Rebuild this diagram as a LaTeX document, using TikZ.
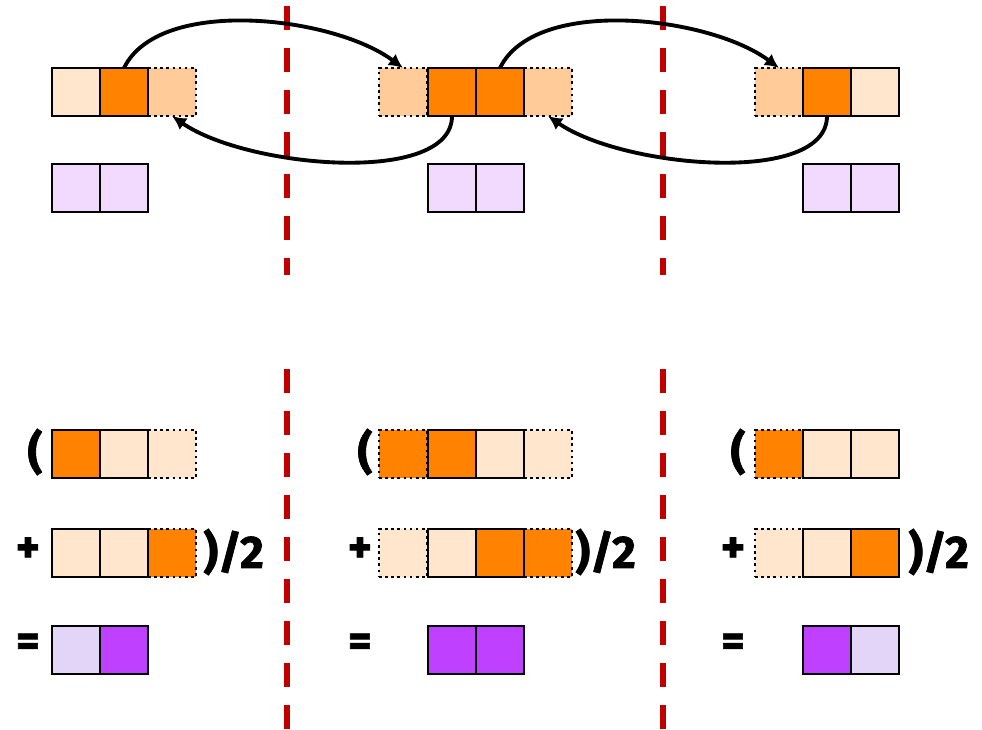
\documentclass[tikz,border=0pt]{standalone}
\usepackage{fontspec}
\setmainfont{Fira Sans}
\newfontfamily\opfont{Fira Sans}[BoldFeatures={FakeBold=1.5}]
\usetikzlibrary{arrows.meta}

\definecolor{lightorange}{HTML}{FFE6CC}
\definecolor{midorange}{HTML}{FFCC99}
\definecolor{fullorange}{HTML}{FF8200}
\definecolor{lightpurple}{HTML}{F2D9FE}
\definecolor{lavender}{HTML}{E3D5F8}
\definecolor{fullpurple}{HTML}{C040FF}
\definecolor{divred}{HTML}{C00000}

\tikzset{
  cell/.style={draw, line width=1.5pt, minimum size=0.96cm, inner sep=0pt, outer sep=0pt},
  halo/.style={cell, dotted},
  hop/.style={-{Latex[length=8pt,width=8pt]}, line width=2.2pt},
  divider/.style={draw=divred, line width=3.4pt, dash pattern=on 13.66pt off 10.24pt},
  sym/.style={font=\opfont\bfseries\fontsize{26}{26}\selectfont, inner sep=0pt}
}

\begin{document}
\begin{tikzpicture}[x=0.02cm,y=0.02cm]
    \useasboundingbox (0,0) rectangle (982,-729);
    % red dividers
    \draw [divider] (287,-6) -- (287,-275);\draw [divider] (287,-369) -- (287,-729);
    \draw [divider] (663,-6) -- (663,-275);\draw [divider] (663,-369) -- (663,-729);
    % exchange, first block
    \node [halo, fill=midorange] (u1c) at (172,-92) {};
    \node [cell, fill=lightorange] (u1a) at (76,-92) {};\node [cell, fill=fullorange] (u1b) at (124,-92) {};
    \node [cell, fill=lightpurple] (v1a) at (76,-188) {};\node [cell, fill=lightpurple] (v1b) at (124,-188) {};
    % exchange, second block
    \node [halo, fill=midorange] (u2a) at (403,-92) {};\node [halo, fill=midorange] (u2d) at (548,-92) {};
    \node [cell, fill=fullorange] (u2b) at (452,-92) {};\node [cell, fill=fullorange] (u2c) at (500,-92) {};
    \node [cell, fill=lightpurple] (v2a) at (452,-188) {};\node [cell, fill=lightpurple] (v2b) at (500,-188) {};
    % exchange, third block
    \node [halo, fill=midorange] (u3a) at (779,-92) {};
    \node [cell, fill=fullorange] (u3b) at (827,-92) {};\node [cell, fill=lightorange] (u3c) at (875,-92) {};
    \node [cell, fill=lightpurple] (v3a) at (827,-188) {};\node [cell, fill=lightpurple] (v3b) at (875,-188) {};
    % halo sends
    \draw [hop] (u1b.north) .. controls +(35,72) and +(-70,52) .. (u2a.north);
    \draw [hop] (u2b.south) .. controls +(0,-70) and +(75,-52) .. (u1c.south);
    \draw [hop] (u2c.north) .. controls +(35,72) and +(-70,52) .. (u3a.north);
    \draw [hop] (u3b.south) .. controls +(0,-70) and +(75,-52) .. (u2d.south);
    % averaging, first block
    \node [sym] (o1) at (35,-452) {(};\node [sym] (p1) at (28,-550) {+};\node [sym] (e1) at (28,-645) {=};
    \node [sym, anchor=west] (c1) at (203,-552) {)/2};
    \node [halo, fill=lightorange] (a1c) at (172,-454) {};
    \node [cell, fill=fullorange] (a1a) at (76,-454) {};\node [cell, fill=lightorange] (a1b) at (124,-454) {};
    \node [halo, fill=fullorange] (b1c) at (172,-553) {};
    \node [cell, fill=lightorange] (b1a) at (76,-553) {};\node [cell, fill=lightorange] (b1b) at (124,-553) {};
    \node [cell, fill=lavender] (r1a) at (76,-650) {};\node [cell, fill=fullpurple] (r1b) at (124,-650) {};
    % averaging, second block
    \node [sym] (o2) at (365,-452) {(};\node [sym] (p2) at (360,-550) {+};\node [sym] (e2) at (360,-645) {=};
    \node [sym, anchor=west] (c2) at (575,-552) {)/2};
    \node [halo, fill=fullorange] (a2a) at (403,-454) {};\node [halo, fill=lightorange] (a2d) at (548,-454) {};
    \node [cell, fill=fullorange] (a2b) at (452,-454) {};\node [cell, fill=lightorange] (a2c) at (500,-454) {};
    \node [halo, fill=lightorange] (b2a) at (403,-553) {};\node [halo, fill=fullorange] (b2d) at (548,-553) {};
    \node [cell, fill=lightorange] (b2b) at (452,-553) {};\node [cell, fill=fullorange] (b2c) at (500,-553) {};
    \node [cell, fill=fullpurple] (r2a) at (452,-650) {};\node [cell, fill=fullpurple] (r2b) at (500,-650) {};
    % averaging, third block
    \node [sym] (o3) at (738,-452) {(};\node [sym] (p3) at (733,-550) {+};\node [sym] (e3) at (733,-645) {=};
    \node [sym, anchor=west] (c3) at (908,-552) {)/2};
    \node [halo, fill=fullorange] (a3a) at (779,-454) {};
    \node [cell, fill=lightorange] (a3b) at (827,-454) {};\node [cell, fill=lightorange] (a3c) at (875,-454) {};
    \node [halo, fill=lightorange] (b3a) at (779,-553) {};
    \node [cell, fill=lightorange] (b3b) at (827,-553) {};\node [cell, fill=fullorange] (b3c) at (875,-553) {};
    \node [cell, fill=fullpurple] (r3a) at (827,-650) {};\node [cell, fill=lavender] (r3b) at (875,-650) {};
\end{tikzpicture}
\end{document}
